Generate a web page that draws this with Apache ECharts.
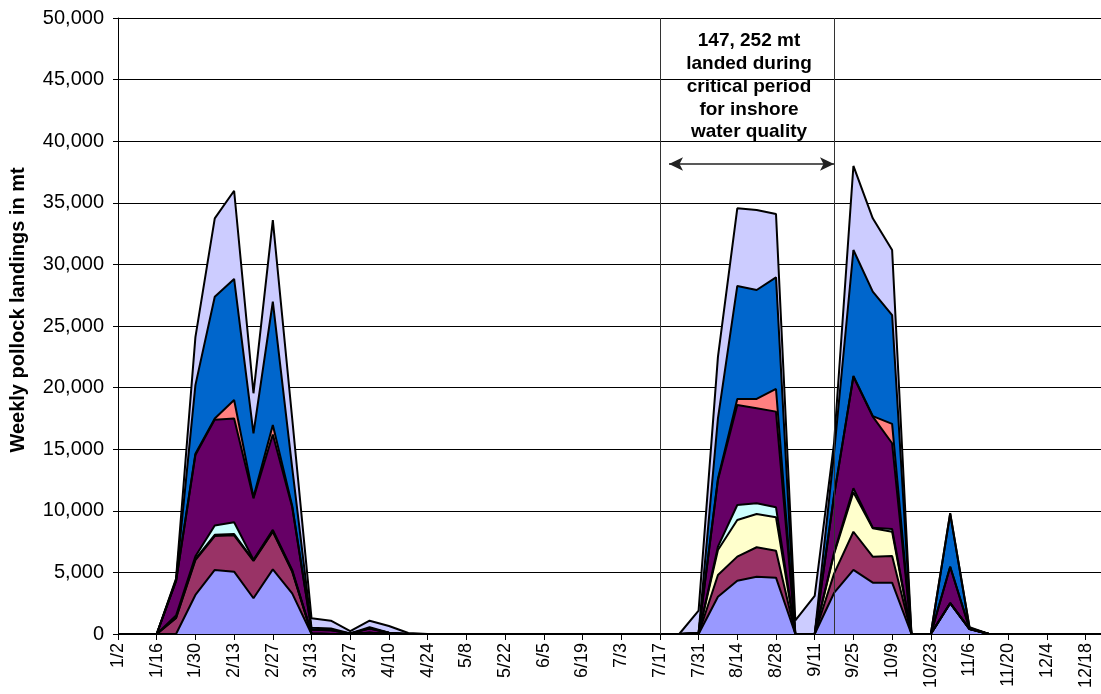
<!DOCTYPE html>
<html>
<head>
<meta charset="utf-8">
<script src="https://cdn.jsdelivr.net/npm/echarts@6/dist/echarts.min.js"></script>
<style>
html,body{margin:0;padding:0;background:#fff;}
#chart{width:1101px;height:694px;}
</style>
</head>
<body>
<div id="chart"></div>
<script>
// Weekly categories (first day of week)
const weeks = ['1/2','1/9','1/16','1/23','1/30','2/6','2/13','2/20','2/27','3/6','3/13','3/20','3/27','4/3','4/10','4/17','4/24','5/1','5/8','5/15','5/22','5/29','6/5','6/12','6/19','6/26','7/3','7/10','7/17','7/24','7/31','8/7','8/14','8/21','8/28','9/4','9/11','9/18','9/25','10/2','10/9','10/16','10/23','10/30','11/6','11/13','11/20','11/27','12/4','12/11','12/18','12/25'];

// Sparse values {weekIndex: value}, all other weeks are 0
const s1 = {4:3170,5:5200,6:5060,7:2900,8:5250,9:3300,31:3030,32:4330,33:4650,34:4570,37:3330,38:5200,39:4170,40:4170,43:2500,44:400};
const s2 = {3:1300,4:2830,5:2750,6:2950,7:3030,8:3050,9:1760,10:50,13:100,31:1760,32:1950,33:2390,34:2190,37:1570,38:3100,39:2110,40:2160};
const s3 = {4:100,5:100,6:100,7:50,8:50,9:50,31:2030,32:2970,33:2700,34:2710,37:1590,38:3200,39:2300,40:1970};
const s4 = {3:200,4:200,5:750,6:960,7:50,8:100,9:100,31:270,32:1220,33:870,34:810,37:100,38:330,39:50,40:220};
const s5 = {3:2800,4:8230,5:8600,6:8430,7:4980,8:7750,9:5100,10:300,11:300,12:50,13:350,14:100,30:100,31:5410,32:8120,33:7710,34:7770,37:4640,38:9060,39:9010,40:6960,43:2960,44:50};
const s6 = {4:100,5:100,6:1490,7:100,8:760,9:100,31:100,32:490,33:760,34:1840,38:50,39:50,40:1570};
const s7 = {3:100,4:5570,5:9880,6:9830,7:5180,8:10010,9:3100,10:150,11:150,13:100,31:4900,32:9170,33:8840,34:9060,37:3470,38:10230,39:10100,40:8840,43:4300,44:50};
const s8 = {3:100,4:3900,5:6360,6:7160,7:3250,8:6630,9:4000,10:770,11:630,12:190,13:530,14:550,15:80,30:1800,31:5000,32:6300,33:6500,34:5140,35:1100,36:3100,37:800,38:6820,39:5950,40:5280,43:50,44:50};

const seriesData = [s1,s2,s3,s4,s5,s6,s7,s8];
const colors = ['#9999FF','#993366','#FFFFCC','#CCFFFF','#660066','#FF8080','#0066CC','#CCCCFF'];

const annotationLines = ['147, 252 mt','landed during','critical period','for inshore','water quality'];

function expand(obj){ return weeks.map((w,i)=> obj[i] !== undefined ? obj[i] : 0); }

const chart = echarts.init(document.getElementById('chart'));
const FONT = '"Liberation Sans", Arial, sans-serif';

const series = seriesData.map((d,k)=>({
  type:'line',
  stack:'total',
  data: expand(d),
  symbol:'none',
  silent:true,
  animation:false,
  lineStyle:{color:'#000', width:2},
  areaStyle:{color:colors[k], opacity:1},
  z: 2
}));

series[7].markLine = {
  silent:true, animation:false,
  symbol:['none','none'],
  label:{show:false},
  lineStyle:{color:'#333', type:'solid', width:1},
  data:[{xAxis:'7/17'},{xAxis:'9/18'}]
};
series[6].markLine = {
  silent:true, animation:false,
  symbol:['arrow','arrow'], symbolSize:[10,14],
  label:{show:false},
  lineStyle:{color:'#222', type:'solid', width:1.5},
  data:[[{x:669,y:164},{x:834,y:164}]]
};

const graphics = annotationLines.map((t,i)=>({
  type:'text', x:749, y:41 + i*22.8, silent:true,
  style:{text:t, fill:'#000', font:'bold 19px ' + FONT, textAlign:'center', textVerticalAlign:'middle'}
}));
graphics.push({
  type:'text', x:18, y:310, rotation:Math.PI/2, silent:true,
  style:{text:'Weekly pollock landings in mt', fill:'#000', font:'bold 20px ' + FONT, textAlign:'center', textVerticalAlign:'middle'}
});

chart.setOption({
  animation:false,
  backgroundColor:'#fff',
  grid:{left:118, top:18, width:987, height:616, containLabel:false, outerBoundsMode:'none'},
  xAxis:{
    type:'category', data:weeks, boundaryGap:false,
    axisLine:{lineStyle:{color:'#000', width:1}},
    axisTick:{show:true, interval:1, length:6, lineStyle:{color:'#000'}},
    axisLabel:{interval:1, rotate:90, fontSize:18, color:'#000', fontFamily:FONT, margin:9},
    splitLine:{show:false}
  },
  yAxis:{
    type:'value', min:0, max:50000, interval:5000,
    axisLine:{show:true, lineStyle:{color:'#000'}},
    axisTick:{show:true, length:5, lineStyle:{color:'#000'}},
    axisLabel:{fontSize:20, color:'#000', fontFamily:FONT, margin:14,
      formatter:v=>v.toLocaleString('en-US')},
    splitLine:{show:true, lineStyle:{color:'#000', width:1}}
  },
  series: series,
  graphic: graphics
});
</script>
</body>
</html>
